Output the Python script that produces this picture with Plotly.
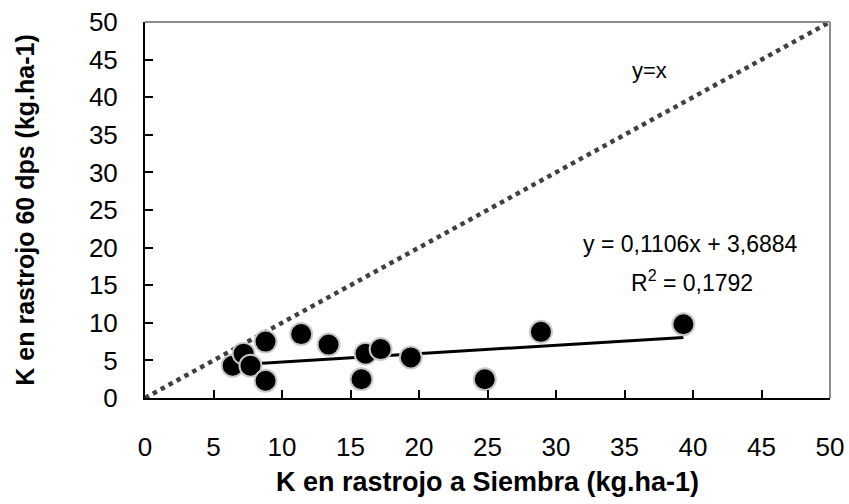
import plotly.graph_objects as go

# K en rastrojo: a siembra (x) vs. 60 días post siembra (y), kg.ha-1
k_siembra = [6.4, 7.2, 7.7, 8.8, 8.8, 11.4, 13.4, 15.8, 16.1, 17.2, 19.4, 24.8, 28.9, 39.3]
k_60dps = [4.3, 5.9, 4.3, 7.5, 2.3, 8.5, 7.1, 2.5, 5.9, 6.5, 5.4, 2.5, 8.8, 9.8]

# Ajuste lineal informado en el gráfico
slope = 0.1106
intercept = 3.6884
r2 = 0.1792

axis_ticks = list(range(0, 51, 5))
identity = [0, 50]

x_fit = [min(k_siembra), max(k_siembra)]
y_fit = [slope * v + intercept for v in x_fit]

FONT = "Liberation Sans, Arial, sans-serif"

fig = go.Figure()

# Línea 1:1
fig.add_trace(go.Scatter(
    x=identity, y=identity, mode="lines",
    line=dict(color="#404040", width=4.5, dash="dot"),
    hoverinfo="skip", showlegend=False,
))

# Recta de regresión
fig.add_trace(go.Scatter(
    x=x_fit, y=y_fit, mode="lines",
    line=dict(color="black", width=3),
    hoverinfo="skip", showlegend=False,
))

# Observaciones
fig.add_trace(go.Scatter(
    x=k_siembra, y=k_60dps, mode="markers",
    marker=dict(size=22, color="black", line=dict(color="#c8c8c8", width=2)),
    showlegend=False,
))


def fmt(v, nd):
    return f"{v:.{nd}f}".replace(".", ",")


fig.update_layout(
    width=849, height=504,
    margin=dict(l=145, r=19, t=22, b=106),
    paper_bgcolor="white", plot_bgcolor="white",
    font=dict(family=FONT, color="black"),
    xaxis=dict(
        range=[0, 50], tickvals=axis_ticks, ticktext=[str(t) for t in axis_ticks],
        ticks="inside", ticklen=8, tickwidth=2, tickcolor="black",
        showline=True, linecolor="black", linewidth=2,
        showgrid=False, zeroline=False, automargin=False,
        tickfont=dict(size=26, family=FONT),
        ticklabelstandoff=25,
        title=dict(text="<b>K en rastrojo a Siembra (kg.ha-1)</b>",
                   font=dict(size=27, family=FONT), standoff=11),
    ),
    yaxis=dict(
        range=[0, 50], tickvals=axis_ticks, ticktext=[str(t) for t in axis_ticks],
        ticks="inside", ticklen=8, tickwidth=2, tickcolor="black",
        showline=True, linecolor="black", linewidth=2,
        showgrid=False, zeroline=False, automargin=False,
        tickfont=dict(size=26, family=FONT),
        ticklabelstandoff=20,
        title=dict(text="<b>K en rastrojo 60 dps (kg.ha-1)</b>",
                   font=dict(size=25, family=FONT), standoff=47),
    ),
)

# Bordes superior y derecho del área de trazado
fig.add_shape(type="line", xref="paper", yref="paper", x0=0, x1=1, y0=1, y1=1,
              line=dict(color="#8c8c8c", width=2))
fig.add_shape(type="line", xref="paper", yref="paper", x0=1, x1=1, y0=0, y1=1,
              line=dict(color="#8c8c8c", width=2))

# Rótulo de la línea 1:1
fig.add_annotation(x=0.737, y=0.87, xref="paper", yref="paper", text="y=x",
                   xanchor="center", yanchor="middle",
                   showarrow=False, font=dict(size=22, family=FONT))

# Ecuación de ajuste y R²
fig.add_annotation(x=0.796, y=0.41, xref="paper", yref="paper",
                   text=f"y = {fmt(slope, 4)}x + {fmt(intercept, 4)}",
                   xanchor="center", yanchor="middle",
                   showarrow=False, font=dict(size=23, family=FONT))
fig.add_annotation(x=0.799, y=0.31, xref="paper", yref="paper",
                   text=f"R<sup>2</sup> = {fmt(r2, 4)}",
                   xanchor="center", yanchor="middle",
                   showarrow=False, font=dict(size=23, family=FONT))

fig.write_html("out.html")
